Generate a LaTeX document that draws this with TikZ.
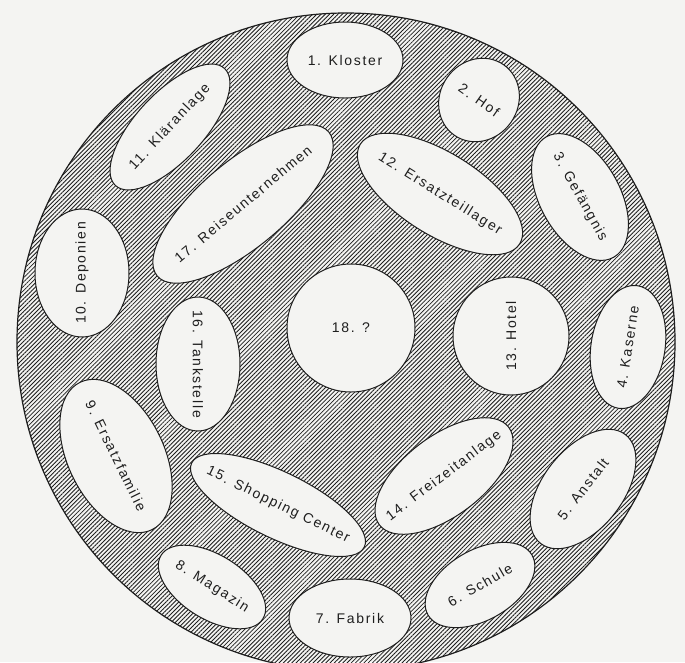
\documentclass[tikz,border=0pt]{standalone}
\usepackage{fontspec}
\usepackage{tikz}
\usetikzlibrary{shapes.geometric,patterns.meta,positioning}
\newfontfamily\spotfont[LetterSpace=12]{Liberation Sans}
\definecolor{paper}{HTML}{F4F4F2}
\definecolor{ink}{HTML}{1E1E1E}
\tikzset{
    discBase/.style={
        circle,
        draw=ink,
        line width=1.2pt,
        pattern={Lines[angle=45,distance=3pt,line width=.85pt]},
        pattern color=ink
    },
    % one white island per place
    spotBase/.style={
        ellipse,
        draw=ink,
        line width=1pt,
        fill=paper,
        inner sep=0pt,
        text=ink,
        font=\spotfont\fontsize{14}{16}\selectfont
    }
}

\begin{document}
\begin{tikzpicture}[
    x=1pt, y=-1pt,
    spot/.style n args={3}{spotBase, minimum width=2*#1, minimum height=2*#2, rotate=#3}
]
\useasboundingbox (0,0) rectangle (685,662);
\fill[paper] (0,0) rectangle (685,662);

% Hatched disc
\node[discBase, minimum size=658pt] (disc) at (346,342) {};

% Places
\foreach \i/\px/\py/\rx/\ry/\ang/\lbl in {
    1/345/60/58/38/0/1. Kloster,
    2/479/100/39/43/-35/2. Hof,
    3/580/197/69/40/-61/3. Gefängnis,
    4/628/347/62/37/81/4. Kaserne,
    5/583/489/69/40/52/5. Anstalt,
    6/480/585/60/35/30/6. Schule,
    7/350/618/61/39/0/7. Fabrik,
    8/212/587/60/32/-32/8. Magazin,
    9/116/456/82/48/-64/9. Ersatzfamilie,
    10/82/273/64/47/90/10. Deponien,
    11/170/127/80/34/47/11. Kläranlage,
    12/440/194/94/41/-32/12. Ersatzteillager,
    13/511/336/59/58/90/13. Hotel,
    14/444/476/81/40/37/14. Freizeitanlage,
    15/278/505/96/33/-26/15. Shopping Center,
    16/198/364/67/42/-90/16. Tankstelle,
    17/243/204/112/43/40/17. Reiseunternehmen,
    18/351/328/64/64/0/18. ?} {
    \node[spot={\rx pt}{\ry pt}{\ang}] (s\i) at (\px,\py) {\makebox[0pt]{\lbl}};
}
\end{tikzpicture}
\end{document}
